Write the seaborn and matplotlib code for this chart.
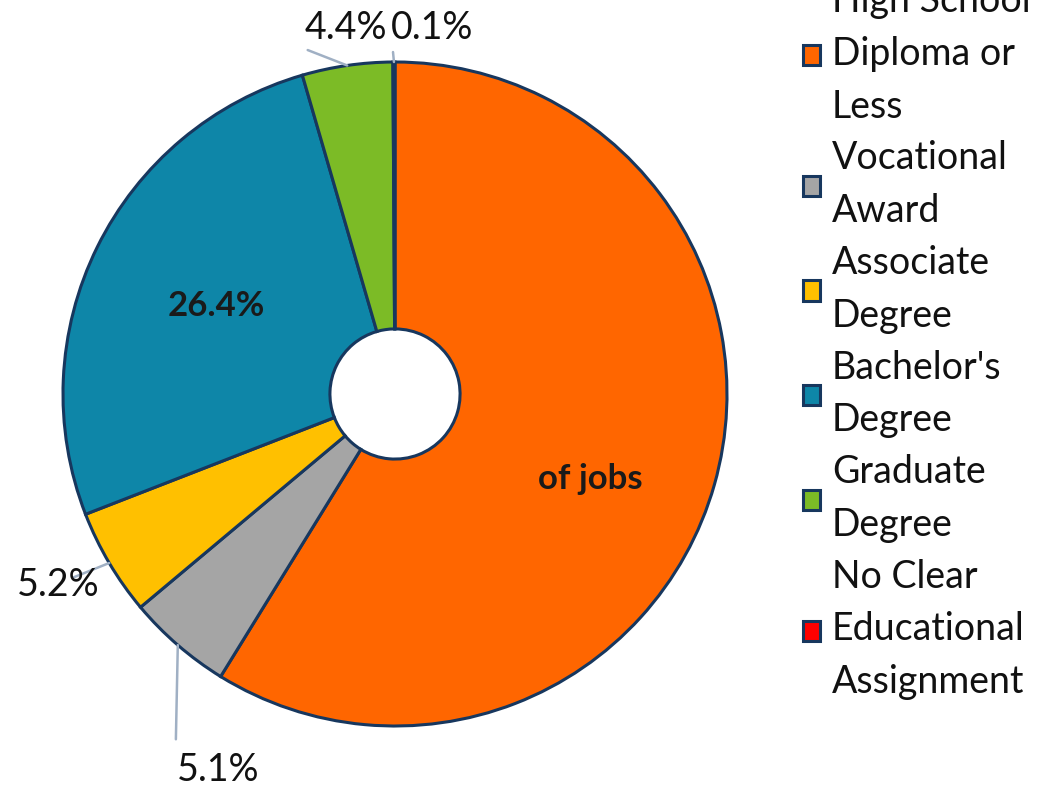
import numpy as np
import matplotlib
matplotlib.use("Agg")
import matplotlib.pyplot as plt
import seaborn as sns

# data
categories = ["High School\nDiploma or\nLess", "Vocational\nAward", "Associate\nDegree",
              "Bachelor's\nDegree", "Graduate\nDegree", "No Clear\nEducational\nAssignment"]
shares = [58.8, 5.1, 5.2, 26.4, 4.4, 0.1]
value_labels = ["of jobs", "5.1%", "5.2%", "26.4%", "4.4%", "0.1%"]
colors = ["#FF6600", "#A5A5A5", "#FFC000", "#0E86A8", "#7CBB26", "#FF0000"]

sns.set_theme(style="white")
plt.rcParams['font.family'] = ['Lato', 'DejaVu Sans']
pal = sns.color_palette(colors)

fig = plt.figure(figsize=(10.41, 7.87), dpi=100)
W, H = 1041, 787
ax = fig.add_axes([63 / W, 61 / H, 664 / W, 664 / H])

wedges, _ = ax.pie(shares, colors=pal, startangle=90, counterclock=False, radius=1,
                   wedgeprops=dict(width=0.804, edgecolor="#17375E", linewidth=2.2))
ax.set_xlim(-1, 1)
ax.set_ylim(-1, 1)
ax.set_aspect("equal")

# label placement: inside labels at a radius, outside labels with leader line
inside = {0: (0.61, -0.09), 3: (0.6, 0.0)}
outside = {1: ((-0.66, -1.04), (-0.533, -1.133)),
           2: ((-0.97, -0.553), (-1.015, -0.575)),
           4: ((-0.263, 1.036), (-0.148, 1.102)),
           5: ((-0.006, 1.03), (0.111, 1.102))}
line_col = "#A0B0C4"
for i, w in enumerate(wedges):
    mid = np.deg2rad((w.theta1 + w.theta2) / 2)
    if i in inside:
        r, dy = inside[i]
        ax.text(r * np.cos(mid), r * np.sin(mid) + dy, value_labels[i], ha="center",
                va="center", fontsize=25, fontweight="bold", color="#1a1a1a")
    else:
        (lx, ly), (tx, ty) = outside[i]
        ax.plot([np.cos(mid), lx], [np.sin(mid), ly], color=line_col, lw=1.8,
                clip_on=False, zorder=1)
        ax.text(tx, ty, value_labels[i], ha="center", va="center", fontsize=27,
                color="#111111", clip_on=False, zorder=3)

leg = fig.legend(wedges, categories, loc="upper left", bbox_to_anchor=(803 / W, 1 + 17 / H),
                 frameon=False, fontsize=27, labelspacing=0.42, handlelength=0.45,
                 handleheight=0.45, handletextpad=0.32, borderpad=0, borderaxespad=0)
for t in leg.get_texts():
    t.set_linespacing(1.58)
    t.set_color("#111111")

fig.savefig("out.png", dpi=100)
